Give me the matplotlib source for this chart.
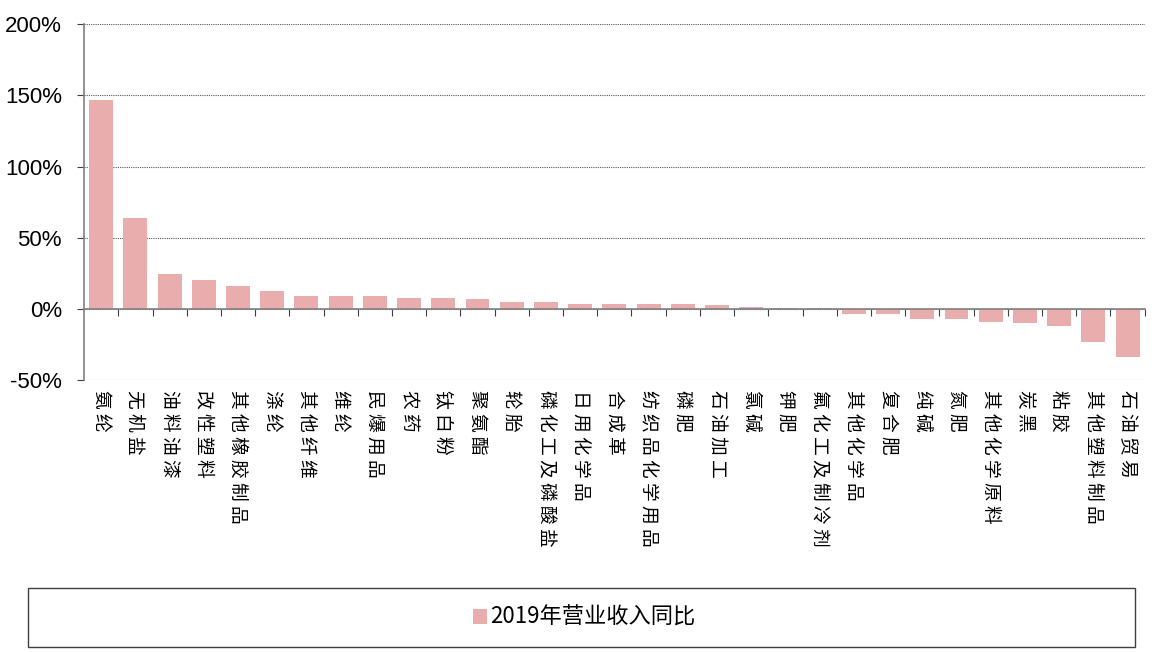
import matplotlib.pyplot as plt
from matplotlib.patches import Rectangle
from matplotlib.transforms import blended_transform_factory

plt.rcParams['font.family'] = ['Liberation Sans Narrow', 'Liberation Sans', 'Noto Sans CJK SC', 'DejaVu Sans']

categories = ["氨纶", "无机盐", "油料油漆", "改性塑料", "其他橡胶制品", "涤纶", "其他纤维", "维纶",
              "民爆用品", "农药", "钛白粉", "聚氨酯", "轮胎", "磷化工及磷酸盐", "日用化学品", "合成革",
              "纺织品化学用品", "磷肥", "石油加工", "氯碱", "钾肥", "氟化工及制冷剂", "其他化学品", "复合肥",
              "纯碱", "氮肥", "其他化学原料", "炭黑", "粘胶", "其他塑料制品", "石油贸易"]
growth = [147, 64, 24.5, 20.3, 16, 12.7, 9, 8.8, 8.8, 8, 8, 7, 5, 5, 3.6, 3.6,
          3.6, 3.5, 2.6, 1.6, 0.5, 0.3, -3.7, -3.6, -6.8, -6.8, -8.9, -10, -12, -23.4, -34]
series_name = "2019年营业收入同比"
yticks = [-50, 0, 50, 100, 150, 200]

bar_color = "#E8ADAC"

fig = plt.figure(figsize=(11.68, 6.52), dpi=100)
ax = fig.add_axes([0.072, 0.417, 0.908, 0.546])

x = list(range(len(categories)))
ax.bar(x, growth, width=0.7, color=bar_color, label=series_name, zorder=3)

ax.set_xlim(-0.5, len(categories) - 0.5)
ax.set_ylim(-50, 200)
ax.set_yticks(yticks)
ax.set_yticklabels([f"{v}%" for v in yticks], fontsize=16)
ax.yaxis.grid(True, linestyle=(0, (1, 1)), color="#555555", linewidth=0.8)
ax.set_axisbelow(True)

for s in ["top", "right"]:
    ax.spines[s].set_visible(False)
ax.spines["left"].set_color("#808080")
ax.spines["left"].set_linewidth(1.2)
ax.spines["bottom"].set_position(("data", 0))
ax.spines["bottom"].set_color("#808080")
ax.spines["bottom"].set_linewidth(1.2)
ax.spines["bottom"].set_zorder(4)

ax.set_xticks([i + 0.5 for i in x])
ax.set_xticklabels([])
ax.tick_params(axis="x", direction="out", length=5, color="#404040")
ax.tick_params(axis="y", direction="out", length=5, color="#404040", pad=11)

trans = blended_transform_factory(ax.transData, ax.transAxes)
for i, name in zip(x, categories):
    ax.text(i, -0.028, " ".join(name), transform=trans, rotation=-90,
            ha="center", va="top", fontsize=13.5, family=["Noto Sans CJK SC", "DejaVu Sans"])

fig.patches.append(Rectangle((28 / 1168, 5 / 652), 1107 / 1168, 59 / 652,
                             transform=fig.transFigure, fill=False,
                             edgecolor="#404040", linewidth=1))
fig.legend(loc="center", bbox_to_anchor=(0.5, 0.053), frameon=False,
           handlelength=0.65, handleheight=0.65, handletextpad=0.1,
           prop={"family": ["Liberation Sans Narrow", "Noto Sans CJK SC"], "size": 16})

fig.savefig("out.png", dpi=100)
